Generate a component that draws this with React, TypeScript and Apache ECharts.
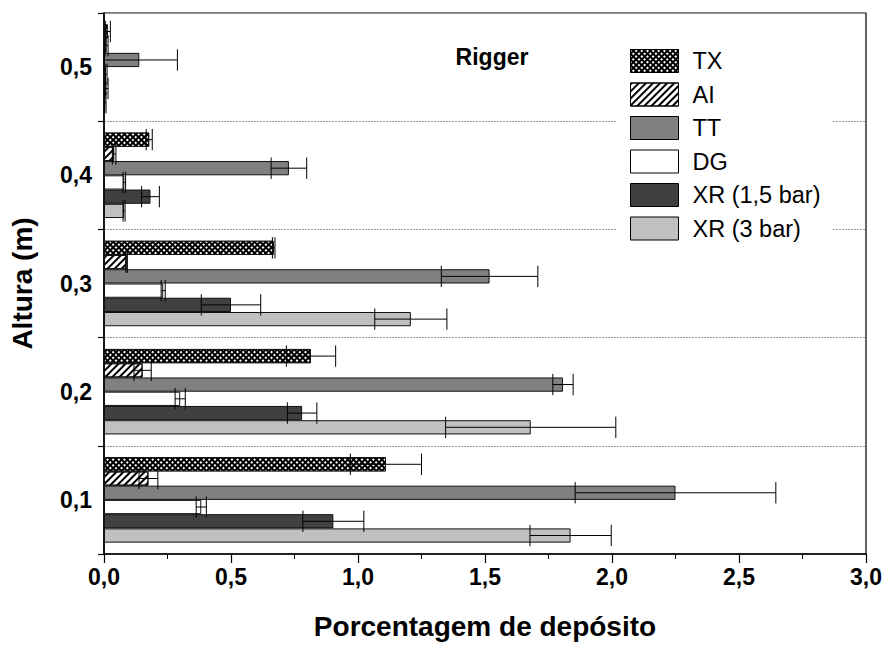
import React, { useEffect, useRef } from "react";
import * as echarts from "echarts";

const categories = ["0,1", "0,2", "0,3", "0,4", "0,5"];
const seriesNames = ["TX", "AI", "TT", "DG", "XR (1,5 bar)", "XR (3 bar)"];

const TX = [1.11, 0.815, 0.668, 0.178, 0.015];
const TX_err = [0.14, 0.097, 0.005, 0.012, 0.01];
const AI = [0.175, 0.152, 0.089, 0.04, 0.01];
const AI_err = [0.037, 0.034, 0.003, 0.007, 0.006];
const TT = [2.25, 1.807, 1.518, 0.728, 0.139];
const TT_err = [0.395, 0.04, 0.19, 0.07, 0.15];
const DG = [0.383, 0.3, 0.233, 0.08, 0.008];
const DG_err = [0.02, 0.02, 0.008, 0.005, 0.004];
const XR15 = [0.903, 0.78, 0.5, 0.183, 0.01];
const XR15_err = [0.12, 0.058, 0.117, 0.035, 0.006];
const XR3 = [1.837, 1.68, 1.208, 0.079, 0.005];
const XR3_err = [0.16, 0.335, 0.142, 0.004, 0.003];

const values = [TX, AI, TT, DG, XR15, XR3];
const errors = [TX_err, AI_err, TT_err, DG_err, XR15_err, XR3_err];

const FONT = "'Liberation Sans', Arial, sans-serif";
const CAT_GAP = 0.21;

export default function App() {
  const ref = useRef<HTMLDivElement>(null);
  useEffect(() => {
    if (!ref.current) return;
    const chart = echarts.init(ref.current, null, { renderer: "svg" });

    const styles: any[] = [
      {
        color: "#000",
        decal: {
          symbol: "rect",
          symbolSize: 1,
          color: "#fff",
          dashArrayX: [1.6, 1.4],
          dashArrayY: [1.6, 1.4],
          rotation: Math.PI / 4,
        },
      },
      {
        color: "#fff",
        decal: {
          symbol: "rect",
          symbolSize: 1,
          color: "#000",
          dashArrayX: [1, 0],
          dashArrayY: [1.2, 3],
          rotation: -Math.PI / 4,
        },
      },
      { color: "#808080" },
      { color: "#ffffff" },
      { color: "#404040" },
      { color: "#c0c0c0" },
    ];

    const barSeries = seriesNames.map((name, i) => ({
      name,
      type: "bar",
      data: values[i],
      barGap: "0%",
      barCategoryGap: CAT_GAP * 100 + "%",
      itemStyle: { ...styles[i], borderColor: "#111", borderWidth: 1 },
      z: 2,
    }));

    const errData: number[][] = [];
    values.forEach((arr, i) =>
      arr.forEach((v, j) => errData.push([j, i, v, errors[i][j]]))
    );

    const errSeries = {
      type: "custom",
      data: errData,
      encode: { x: 2, y: 0 },
      z: 5,
      silent: true,
      renderItem: (params: any, api: any) => {
        const cat = api.value(0);
        const idx = api.value(1);
        const v = api.value(2);
        const e = api.value(3);
        const c = api.coord([v, cat]);
        const H = api.size([0, 1])[1];
        const total = H * (1 - CAT_GAP);
        const bw = total / 6;
        const y = c[1] - total / 2 + idx * bw + bw / 2;
        const lo = api.coord([Math.max(0, v - e), cat])[0];
        const hi = api.coord([v + e, cat])[0];
        const cap = bw * 0.75;
        const st = { stroke: "#000", lineWidth: 1 };
        return {
          type: "group",
          children: [
            { type: "line", shape: { x1: lo, y1: y, x2: hi, y2: y }, style: st },
            { type: "line", shape: { x1: lo, y1: y - cap, x2: lo, y2: y + cap }, style: st },
            { type: "line", shape: { x1: hi, y1: y - cap, x2: hi, y2: y + cap }, style: st },
          ],
        };
      },
    };

    chart.setOption({
      animation: false,
      backgroundColor: "#fff",
      title: {
        text: "Rigger",
        left: 492,
        top: 45,
        textAlign: "center",
        padding: 0,
        textStyle: { fontSize: 23, fontWeight: "bold", fontFamily: FONT, color: "#000" },
      },
      legend: {
        orient: "vertical",
        left: 616,
        top: 40,
        padding: [9, 12, 9, 14],
        backgroundColor: "#fff",
        itemWidth: 48,
        itemHeight: 23,
        itemGap: 9.5,
        icon: "rect",
        itemStyle: { borderColor: "#000", borderWidth: 1 },
        textStyle: { fontSize: 23.5, color: "#000", fontFamily: FONT, padding: [0, 0, 0, 9] },
        data: seriesNames,
      },
      grid: {
        left: 102,
        right: 21,
        top: 13,
        bottom: 90,
        show: true,
        borderColor: "#000",
        borderWidth: 1.2,
        backgroundColor: "transparent",
      },
      xAxis: {
        type: "value",
        min: 0,
        max: 3,
        interval: 0.5,
        name: "Porcentagem de depósito",
        nameLocation: "middle",
        nameGap: 58,
        nameTextStyle: { fontSize: 28, fontWeight: "bold", fontFamily: FONT, color: "#000" },
        axisLine: { show: true, lineStyle: { color: "#000", width: 1.5 } },
        axisTick: { show: true, length: 9, lineStyle: { color: "#000", width: 1.2 } },
        minorTick: { show: true, splitNumber: 2, length: 5, lineStyle: { color: "#000", width: 1 } },
        splitLine: { show: false },
        axisLabel: {
          formatter: (v: number) => v.toFixed(1).replace(".", ","),
          fontSize: 23,
          fontWeight: "bold",
          fontFamily: FONT,
          color: "#000",
          margin: 11,
        },
      },
      yAxis: {
        type: "category",
        data: categories,
        name: "Altura (m)",
        nameLocation: "middle",
        nameGap: 68,
        nameTextStyle: { fontSize: 28, fontWeight: "bold", fontFamily: FONT, color: "#000" },
        axisLine: { show: true, lineStyle: { color: "#000", width: 1.5 } },
        axisTick: { show: true, length: 6, lineStyle: { color: "#000", width: 1.2 } },
        splitLine: { show: true, lineStyle: { color: "#999", width: 1, type: [2, 1] } },
        axisLabel: {
          fontSize: 23,
          fontWeight: "bold",
          fontFamily: FONT,
          color: "#000",
          margin: 12,
        },
      },
      series: [...barSeries, errSeries],
    });

    return () => chart.dispose();
  }, []);

  return (
    <div
      ref={ref}
      style={{ position: "fixed", left: 0, top: 0, width: 887, height: 645 }}
    />
  );
}
